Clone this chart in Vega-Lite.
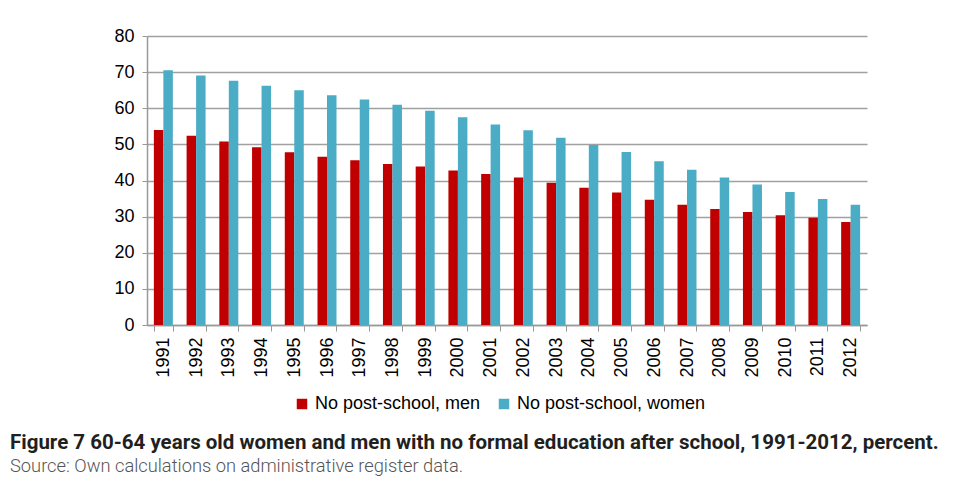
{
  "$schema": "https://vega.github.io/schema/vega-lite/v6.json",
  "autosize": {"type": "none"},
  "width": 720,
  "height": 289,
  "padding": {"left": 147, "top": 36, "right": 91, "bottom": 159},
  "title": {
    "text": "Figure 7 60-64 years old women and men with no formal education after school, 1991-2012, percent.",
    "subtitle": "Source: Own calculations on administrative register data.",
    "orient": "bottom",
    "anchor": "start",
    "frame": "group",
    "dx": -137,
    "offset": 20,
    "font": "Roboto",
    "fontSize": 20.5,
    "fontWeight": "bold",
    "color": "#231f20",
    "subtitleFont": "Roboto",
    "subtitleFontSize": 18.3,
    "subtitleFontWeight": 300,
    "subtitleColor": "#555555",
    "subtitlePadding": 4
  },
  "data": {
    "values": [
      {"Year": "1991", "Series": "No post-school, men", "Value": 54.0},
      {"Year": "1991", "Series": "No post-school, women", "Value": 70.5},
      {"Year": "1992", "Series": "No post-school, men", "Value": 52.4},
      {"Year": "1992", "Series": "No post-school, women", "Value": 69.1},
      {"Year": "1993", "Series": "No post-school, men", "Value": 50.8},
      {"Year": "1993", "Series": "No post-school, women", "Value": 67.6},
      {"Year": "1994", "Series": "No post-school, men", "Value": 49.2},
      {"Year": "1994", "Series": "No post-school, women", "Value": 66.2},
      {"Year": "1995", "Series": "No post-school, men", "Value": 47.8},
      {"Year": "1995", "Series": "No post-school, women", "Value": 65.0},
      {"Year": "1996", "Series": "No post-school, men", "Value": 46.6},
      {"Year": "1996", "Series": "No post-school, women", "Value": 63.6},
      {"Year": "1997", "Series": "No post-school, men", "Value": 45.6},
      {"Year": "1997", "Series": "No post-school, women", "Value": 62.4},
      {"Year": "1998", "Series": "No post-school, men", "Value": 44.6},
      {"Year": "1998", "Series": "No post-school, women", "Value": 61.0},
      {"Year": "1999", "Series": "No post-school, men", "Value": 43.9},
      {"Year": "1999", "Series": "No post-school, women", "Value": 59.3},
      {"Year": "2000", "Series": "No post-school, men", "Value": 42.8},
      {"Year": "2000", "Series": "No post-school, women", "Value": 57.5},
      {"Year": "2001", "Series": "No post-school, men", "Value": 41.8},
      {"Year": "2001", "Series": "No post-school, women", "Value": 55.5},
      {"Year": "2002", "Series": "No post-school, men", "Value": 40.8},
      {"Year": "2002", "Series": "No post-school, women", "Value": 53.9},
      {"Year": "2003", "Series": "No post-school, men", "Value": 39.4},
      {"Year": "2003", "Series": "No post-school, women", "Value": 51.8},
      {"Year": "2004", "Series": "No post-school, men", "Value": 38.0},
      {"Year": "2004", "Series": "No post-school, women", "Value": 49.8},
      {"Year": "2005", "Series": "No post-school, men", "Value": 36.7},
      {"Year": "2005", "Series": "No post-school, women", "Value": 47.9},
      {"Year": "2006", "Series": "No post-school, men", "Value": 34.7},
      {"Year": "2006", "Series": "No post-school, women", "Value": 45.3},
      {"Year": "2007", "Series": "No post-school, men", "Value": 33.3},
      {"Year": "2007", "Series": "No post-school, women", "Value": 43.0},
      {"Year": "2008", "Series": "No post-school, men", "Value": 32.1},
      {"Year": "2008", "Series": "No post-school, women", "Value": 40.8},
      {"Year": "2009", "Series": "No post-school, men", "Value": 31.3},
      {"Year": "2009", "Series": "No post-school, women", "Value": 38.9},
      {"Year": "2010", "Series": "No post-school, men", "Value": 30.4},
      {"Year": "2010", "Series": "No post-school, women", "Value": 36.8},
      {"Year": "2011", "Series": "No post-school, men", "Value": 29.7},
      {"Year": "2011", "Series": "No post-school, women", "Value": 34.9},
      {"Year": "2012", "Series": "No post-school, men", "Value": 28.5},
      {"Year": "2012", "Series": "No post-school, women", "Value": 33.3}
    ]
  },
  "mark": {"type": "bar"},
  "encoding": {
    "x": {
      "field": "Year",
      "type": "ordinal",
      "scale": {"paddingInner": 0.42, "paddingOuter": 0.21},
      "axis": {
        "title": null,
        "labelAngle": -90,
        "labelFontSize": 18,
        "labelPadding": 6,
        "tickBand": "extent",
        "tickSize": 6,
        "tickColor": "#999999",
        "domainColor": "#999999",
        "domainWidth": 1.5
      }
    },
    "xOffset": {"field": "Series", "type": "nominal"},
    "y": {
      "field": "Value",
      "type": "quantitative",
      "scale": {"domain": [0, 80]},
      "axis": {
        "title": null,
        "values": [0, 10, 20, 30, 40, 50, 60, 70, 80],
        "labelFontSize": 18,
        "labelPadding": 8,
        "tickSize": 5,
        "tickColor": "#999999",
        "domainColor": "#999999",
        "domainWidth": 1.5,
        "gridColor": "#a0a0a0",
        "gridWidth": 1.3
      }
    },
    "color": {
      "field": "Series",
      "type": "nominal",
      "scale": {"range": ["#c00000", "#4bacc6"]},
      "legend": {
        "title": null,
        "orient": "none",
        "legendX": 146,
        "legendY": 359,
        "direction": "horizontal",
        "symbolType": "square",
        "symbolSize": 110,
        "symbolStrokeWidth": 0,
        "labelFontSize": 18,
        "labelLimit": 300,
        "columnPadding": 14
      }
    }
  },
  "config": {
    "font": "Arial",
    "view": {"stroke": null},
    "axis": {"labelColor": "#000000", "labelFont": "Arial"},
    "legend": {"labelColor": "#000000", "labelFont": "Arial"}
  }
}
